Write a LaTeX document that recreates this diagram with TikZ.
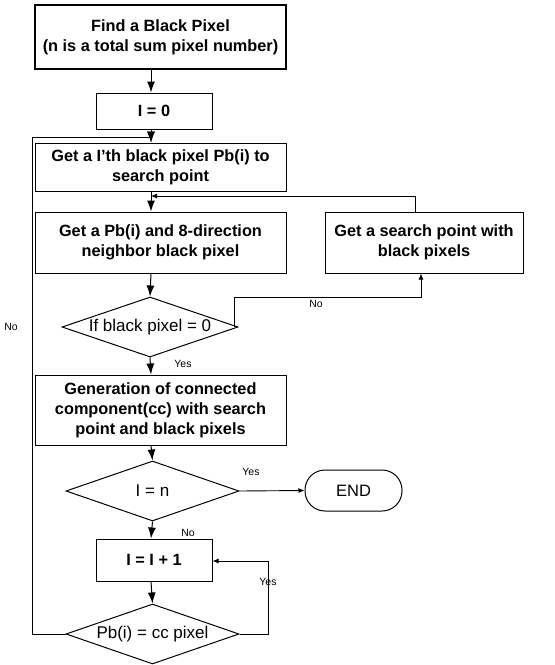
\documentclass[tikz,border=0pt]{standalone}
\usepackage{fontspec}
\setmainfont{Liberation Sans}
\usetikzlibrary{shapes.geometric,arrows.meta}

\begin{document}
\begin{tikzpicture}[x=1pt,y=-1pt,
  every node/.style={inner sep=0pt},
  procbox/.style={draw, line width=1pt, rectangle, align=center,
    font=\bfseries\fontsize{16.3}{20}\selectfont},
  testbox/.style={draw, line width=1pt, diamond, aspect=2.9, align=center,
    font=\fontsize{17}{19}\selectfont},
  termbox/.style={draw, line width=1pt, rectangle, rounded corners=20pt,
    font=\fontsize{16.5}{19}\selectfont},
  lbl/.style={font=\fontsize{10.5}{12}\selectfont},
  flow/.style={line width=1pt, -{Latex[length=11pt,width=8pt]}},
  side/.style={line width=0.9pt, -{Latex[length=6pt,width=5pt]}},
]
\useasboundingbox (0,0) rectangle (555,665);

% main column of steps
\node[procbox, line width=2pt, minimum width=251, minimum height=64] (b1) at (160.5,37)
  {Find a Black Pixel\\(n is a total sum pixel number)};
\node[procbox, minimum width=116, minimum height=36] (b2) at (154,111) {I = 0};
\node[procbox, minimum width=251, minimum height=48] (b3) at (160.5,167)
  {Get a I'th black pixel Pb(i) to\\search point};
\node[procbox, minimum width=251, minimum height=61] (b4) at (160.5,242.5)
  {Get a Pb(i) and 8-direction\\neighbor black pixel};
\node[procbox, minimum width=198, minimum height=61] (b5) at (424,242.5)
  {Get a search point with\\black pixels};
\node[testbox, minimum width=176, minimum height=60] (d1) at (150,327) {If black pixel = 0};
\node[procbox, minimum width=251, minimum height=70] (b6) at (160.5,410)
  {Generation of connected\\component(cc) with search\\point and black pixels};
\node[testbox, minimum width=173, minimum height=60] (d2) at (152.5,491) {I = n};
\node[termbox, minimum width=97, minimum height=41] (end) at (353.5,490.5) {END};
\node[procbox, minimum width=116, minimum height=42] (b7) at (154,560) {I = I + 1};
\node[testbox, minimum width=173, minimum height=60] (d3) at (152.5,634) {Pb(i) = cc pixel};

% vertical spine of the flow
\coordinate (sp) at (151,0);
\coordinate (jn) at (151,196);
\coordinate (top) at (151,137);
\coordinate (lft) at (32,137);
\coordinate (nk) at (421,297);
\coordinate (yk) at (268,561);

\draw[flow] (b1.south -| sp) -- (b2.north -| sp);
\draw[flow] (b2.south -| sp) -- (b3.north -| sp);
\draw[flow] (b3.south -| sp) -- (b4.north -| sp);
\draw[flow] (b4.south -| sp) -- (d1.north);
\draw[flow] (d1.south) -- (b6.north -| sp);
\draw[flow] (b6.south -| sp) -- (d2.north);
\draw[flow] (d2.south) -- (b7.north -| sp);
\draw[flow] (b7.south -| sp) -- (d3.north);

% branches
\draw[side] (d1.east) ++(-4,0) |- (nk) -- (nk |- b5.south);
\draw[side] (b5.north -| nk) ++(-6,0) |- (jn);
\draw[side] (d2.east) -- (end.west);
\draw[side] (d3.east) -| (yk) -- (yk -| b7.east);
\draw[flow] (d3.west) -| (lft) -- (top) -- (b3.north -| sp);

% branch labels
\node[lbl] at (316,304) {No};
\node[lbl] at (183,364) {Yes};
\node[lbl] at (251,472) {Yes};
\node[lbl] at (188,533) {No};
\node[lbl] at (268,582) {Yes};
\node[lbl] at (11,327) {No};
\end{tikzpicture}
\end{document}
